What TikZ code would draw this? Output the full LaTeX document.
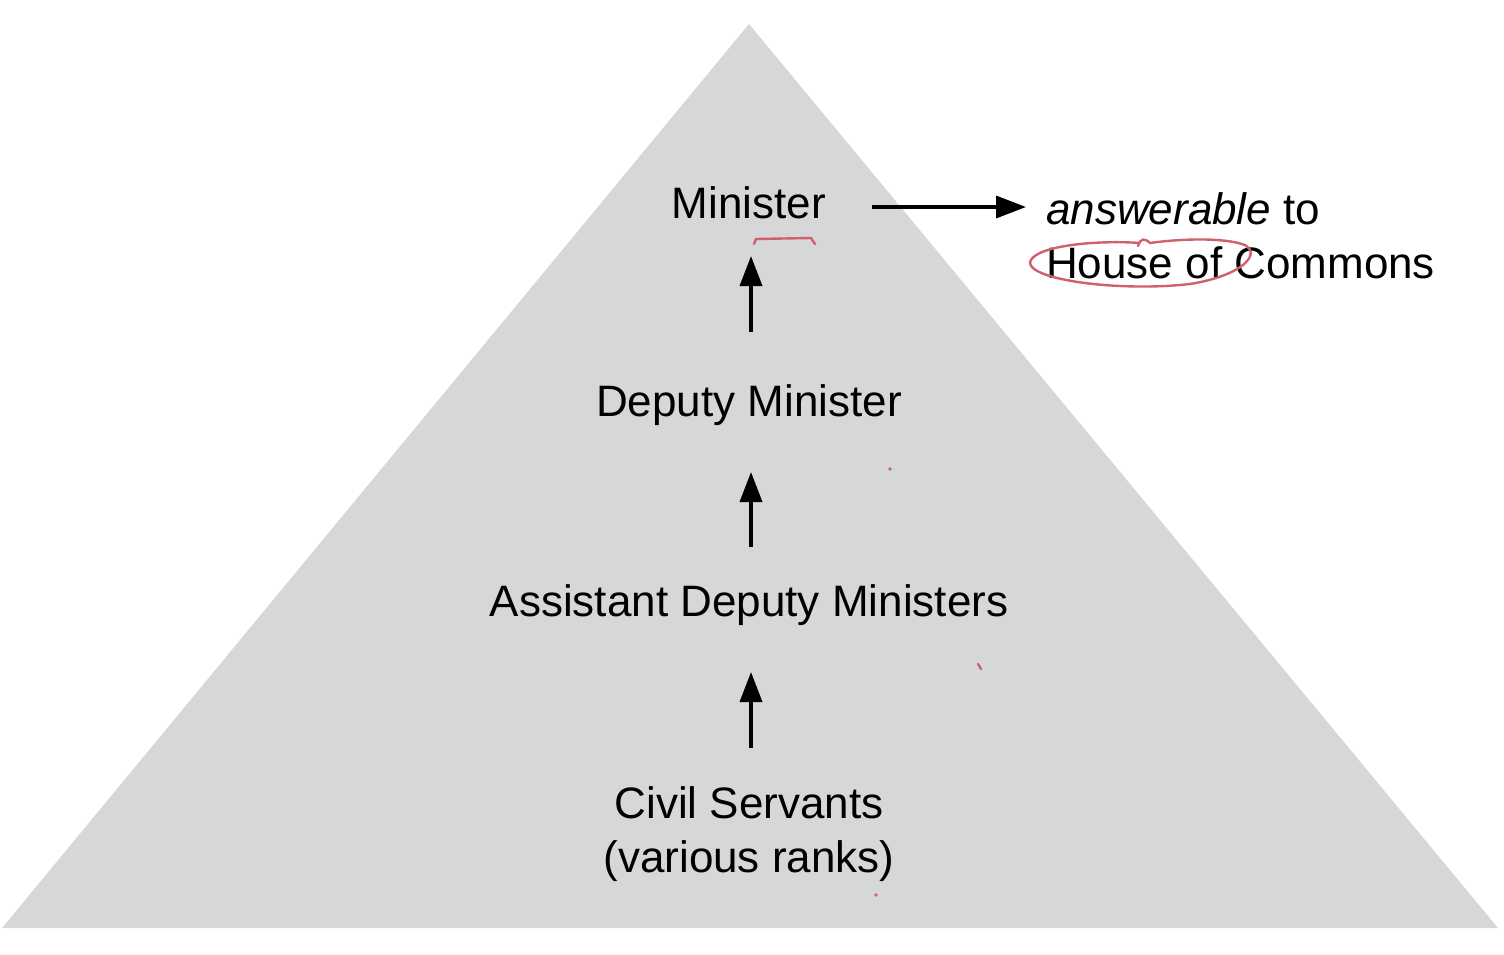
\documentclass[tikz,border=0pt]{standalone}
\usepackage{fontspec}
\setmainfont{Liberation Sans}
\usetikzlibrary{arrows.meta}
\definecolor{pyr}{HTML}{D6D7D9}
\definecolor{pen}{HTML}{D0606A}
\tikzset{
  lbl/.style={font=\fontsize{44}{54}\selectfont, inner sep=0pt, align=center},
  uparrow/.style={line width=3.5pt, -{Triangle[length=30pt,width=22pt]}},
  redpen/.style={draw=pen, line width=2.4pt, line cap=round}
}
\begin{document}
\begin{tikzpicture}[x=1pt,y=-1pt]
\useasboundingbox (0,0) rectangle (1504,954);
\fill[pyr] (749,24) -- (1498,928) -- (2,928) -- cycle;
\node[lbl] (min) at (749,203) {Minister};
\node[lbl] (dep) at (749,405) {Deputy Minister};
\node[lbl] (adm) at (749,605) {Assistant Deputy Ministers};
\node[lbl] (civ) at (749,834) {Civil Servants\\(various ranks)};
\node[lbl, anchor=west, align=left] (hoc) at (1046,236) {\textit{answerable} to\\House of Commons};
\coordinate (a1s) at (751,332); \coordinate (a1e) at (751,256);
\coordinate (a2s) at (751,547); \coordinate (a2e) at (751,472);
\coordinate (a3s) at (751,748); \coordinate (a3e) at (751,672);
\coordinate (hs) at (872,207); \coordinate (he) at (1026,207);
\draw[uparrow] (a1s) -- (a1e);
\draw[uparrow] (a2s) -- (a2e);
\draw[uparrow] (a3s) -- (a3e);
\draw[uparrow] (hs) -- (he);
% red pen marks
\draw[redpen] (754,244) -- (756,239) -- (811,238) -- (815,244);
\draw[redpen] (1140,243) .. controls (1100,240) and (1035,245) .. (1030,262)
  .. controls (1028,280) and (1120,292) .. (1190,284)
  .. controls (1240,276) and (1262,255) .. (1245,245)
  .. controls (1220,236) and (1170,240) .. (1150,243)
  .. controls (1145,238) and (1140,238) .. (1138,246);
\fill[pen] (890,469) circle (1.8pt);
\draw[redpen] (978,664) -- (981,669);
\fill[pen] (876,895) circle (1.8pt);
\end{tikzpicture}
\end{document}
